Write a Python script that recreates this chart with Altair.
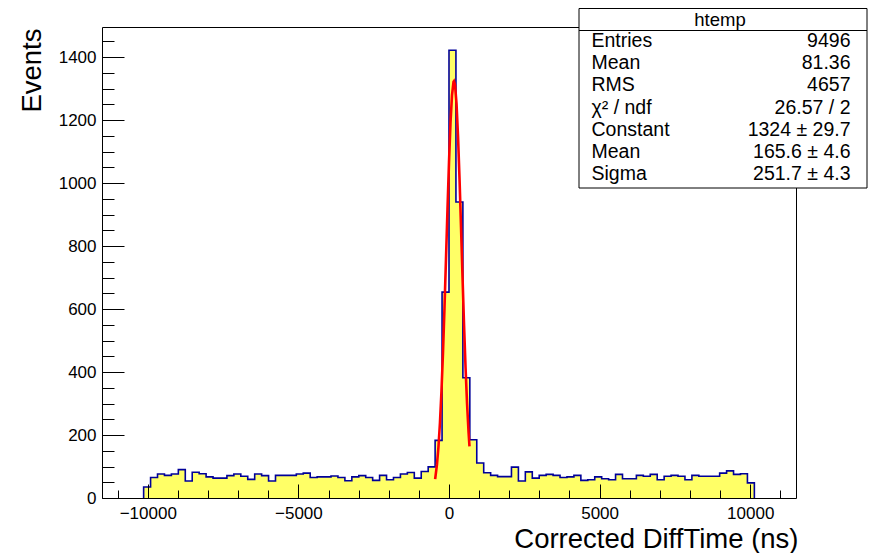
import altair as alt
import pandas as pd

# ---------------- data ----------------
# histogram "htemp": 100 bins over [-11520, 11520]
x_lo = -11520
x_hi = 11520
n_bins = 100
counts = [
    0, 0, 0, 0, 0, 0,
    35, 65, 76, 72, 76, 90, 54, 82, 77, 67,
    63, 63, 71, 76, 69, 59, 76, 71, 54, 72,
    72, 72, 76, 79, 65, 67, 67, 70, 65, 55,
    67, 71, 65, 56, 72, 58, 65, 76, 81, 63,
    84, 99, 183, 654, 1422, 940, 382, 185, 111,
    80, 72, 68, 68, 98, 54, 83, 63, 72, 75,
    72, 65, 67, 72, 56, 58, 67, 61, 58, 75,
    61, 61, 72, 69, 75, 58, 69, 72, 69, 58,
    72, 69, 69, 69, 79, 86, 75, 77, 48,
    0, 0, 0, 0, 0, 0,
]
assert len(counts) == n_bins

# red gaussian fit curve
fit_x = [-460, -400, -350, -300, -250, -200, -150, -100, -50, 0, 50, 100, 150, 165,
         200, 250, 300, 350, 400, 450, 500, 550, 600, 650, 680]
fit_y = [60, 106, 162, 239, 339, 461, 603, 759, 917, 1066, 1192, 1280, 1322, 1324,
         1312, 1252, 1148, 1012, 858, 699, 548, 413, 299, 208, 164]

# axis ticks / labels
x_major = [-10000, -5000, 0, 5000, 10000]
x_minor = [-11000, -10000, -9000, -8000, -7000, -6000, -5000, -4000, -3000, -2000, -1000, 0,
           1000, 2000, 3000, 4000, 5000, 6000, 7000, 8000, 9000, 10000, 11000]
y_major = [0, 200, 400, 600, 800, 1000, 1200, 1400]
y_minor = [0, 50, 100, 150, 200, 250, 300, 350, 400, 450, 500, 550, 600, 650, 700, 750,
           800, 850, 900, 950, 1000, 1050, 1100, 1150, 1200, 1250, 1300, 1350, 1400, 1450]
y_top = 1496

# statistics box
stats_title = "htemp"
stat_names = ["Entries", "Mean", "RMS", "χ² / ndf", "Constant", "Mean", "Sigma"]
stat_values = ["9496", "81.36", "4657", "26.57 / 2", "1324 ± 29.7", "165.6 ± 4.6", "251.7 ± 4.3"]

# ---------------- tables ----------------
bin_w = (x_hi - x_lo) / n_bins
filled = [i for i, c in enumerate(counts) if c > 0]
first, last = filled[0], filled[-1]
step_x = [x_lo + first * bin_w] + [x_lo + i * bin_w for i in range(first, last + 1)] + [x_lo + (last + 1) * bin_w]
step_y = [0] + counts[first:last + 1] + [0]
hist_df = pd.DataFrame({"edge": step_x, "count": step_y})
fit_df = pd.DataFrame({"fx": fit_x, "fy": fit_y})

FONT = "Liberation Sans"
W, H = 694, 471

x_scale = alt.Scale(domain=[x_lo, x_hi], nice=False, zero=False)
y_scale = alt.Scale(domain=[0, y_top], nice=False, zero=False)

x_label_axis = alt.Axis(
    orient="bottom",
    values=x_major, format="d", ticks=False, tickSize=0, domain=False, grid=False,
    labelFont=FONT, labelFontSize=17, labelColor="black", labelPadding=20,
    labelBaseline="alphabetic", labelFlush=False, labelOverlap=False,
    title="Corrected DiffTime (ns)", titleFont=FONT, titleFontSize=27.5,
    titleFontWeight="normal", titleColor="black", titleX=696, titleY=49,
    titleAlign="right", titleBaseline="alphabetic", titleAngle=0,
)
x_major_axis = alt.Axis(
    orient="bottom",
    values=x_major, labels=False, domain=False, grid=False, ticks=True,
    tickSize=14, offset=-14, tickColor="black", tickWidth=1, title="", zindex=1,
)
x_minor_axis = alt.Axis(
    orient="bottom",
    values=x_minor, labels=False, domain=False, grid=False, ticks=True,
    tickSize=8, offset=-8, tickColor="black", tickWidth=1, title="", zindex=1,
)
y_label_axis = alt.Axis(
    orient="left",
    values=y_major, format="d", ticks=False, tickSize=0, domain=False, grid=False,
    labelFont=FONT, labelFontSize=17, labelColor="black", labelPadding=6,
    labelBaseline="middle", labelAlign="right", labelFlush=False, labelOverlap=False,
    title="Events", titleFont=FONT, titleFontSize=27.5, titleFontWeight="normal",
    titleColor="black", titleX=-62, titleY=1, titleAngle=270, titleAlign="right",
    titleBaseline="alphabetic",
)
y_major_axis = alt.Axis(
    orient="left",
    values=y_major, labels=False, domain=False, grid=False, ticks=True,
    tickSize=22, offset=-22, tickColor="black", tickWidth=1, title="", zindex=1,
)
y_minor_axis = alt.Axis(
    orient="left",
    values=y_minor, labels=False, domain=False, grid=False, ticks=True,
    tickSize=12, offset=-12, tickColor="black", tickWidth=1, title="", zindex=1,
)

fill = alt.Chart(hist_df).mark_area(interpolate="step-after", color="#ffff66").encode(
    x=alt.X("edge:Q", scale=x_scale, axis=x_label_axis),
    y=alt.Y("count:Q", scale=y_scale, axis=y_label_axis),
)
outline = alt.Chart(hist_df).mark_line(
    interpolate="step-after", color="#000099", strokeWidth=1.6
).encode(
    x=alt.X("edge:Q", scale=x_scale, axis=x_major_axis),
    y=alt.Y("count:Q", scale=y_scale, axis=y_major_axis),
)
fit = alt.Chart(fit_df).mark_line(color="#ff0000", strokeWidth=2.6).encode(
    x=alt.X("fx:Q", scale=x_scale, axis=x_minor_axis),
    y=alt.Y("fy:Q", scale=y_scale, axis=y_minor_axis),
)

# statistics box (pixel placement, over the frame like ROOT's TPaveStats)
one = pd.DataFrame({"a": [0]})
box = alt.Chart(one).mark_rect(fill="white", stroke="black", strokeWidth=1).encode(
    x=alt.value(477), x2=alt.value(765), y=alt.value(-18.5), y2=alt.value(161)
)
sep = alt.Chart(one).mark_rule(color="black", strokeWidth=1).encode(
    x=alt.value(477), x2=alt.value(765), y=alt.value(3.5)
)
layers = [fill, outline, fit, box, sep]
layers.append(
    alt.Chart(pd.DataFrame({"t": [stats_title]})).mark_text(
        font=FONT, fontSize=18.5, color="black", align="center", baseline="alphabetic"
    ).encode(x=alt.value(618), y=alt.value(-1.5), text="t:N")
)
for i, (nm, vl) in enumerate(zip(stat_names, stat_values)):
    yy = 19.9 + 22.2 * i
    layers.append(
        alt.Chart(pd.DataFrame({"t": [nm]})).mark_text(
            font=FONT, fontSize=19.5, color="black", align="left", baseline="alphabetic"
        ).encode(x=alt.value(489.5), y=alt.value(yy), text="t:N")
    )
    layers.append(
        alt.Chart(pd.DataFrame({"t": [vl]})).mark_text(
            font=FONT, fontSize=19.5, color="black", align="right", baseline="alphabetic"
        ).encode(x=alt.value(748.5), y=alt.value(yy), text="t:N")
    )

chart = (
    alt.layer(*layers)
    .resolve_axis(x="independent", y="independent")
    .properties(
        width=W,
        height=H,
        autosize=alt.AutoSizeParams(type="none"),
        padding={"left": 94, "top": 19, "right": 72, "bottom": 55},
        background="white",
    )
    .configure_view(stroke="black", strokeWidth=1)
)

chart.save("out.html", embed_options={"renderer": "svg", "actions": False})
